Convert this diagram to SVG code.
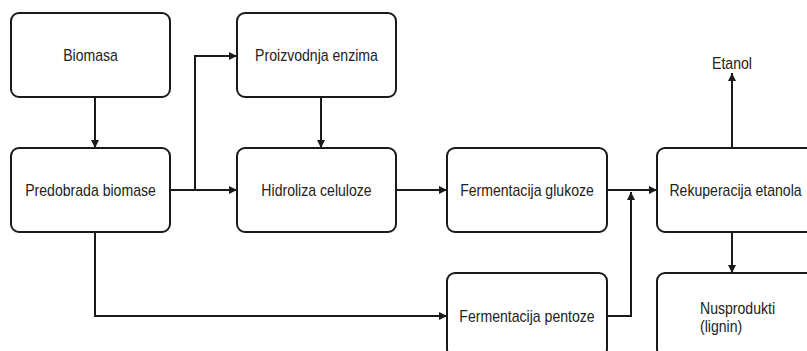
<svg xmlns="http://www.w3.org/2000/svg" width="807" height="351" viewBox="0 0 807 351">
  <style>
    .box { fill: #ffffff; stroke: #1a1a1a; stroke-width: 2; }
    .lbl { font-family: "Liberation Sans Narrow", "Liberation Sans", Arial, sans-serif; font-size: 16px; fill: #222222; }
    .mid { text-anchor: middle; dominant-baseline: central; }
    .edge { fill: none; stroke: #1a1a1a; stroke-width: 2; }
  </style>
  <defs>
    <marker id="arrow" viewBox="0 0 10 10" refX="10" refY="5" markerWidth="10" markerHeight="8" markerUnits="userSpaceOnUse" orient="auto">
      <path d="M0,0 L10,5 L0,10 Z" fill="#1a1a1a"/>
    </marker>
  </defs>
  <rect width="807" height="351" fill="#ffffff"/>

  <g id="connectors">
    <path class="edge" d="M95,97 V148" marker-end="url(#arrow)"/>
    <path class="edge" d="M170,190 H237" marker-end="url(#arrow)"/>
    <path class="edge" d="M195,190 V56 H237" marker-end="url(#arrow)"/>
    <path class="edge" d="M321,97 V148" marker-end="url(#arrow)"/>
    <path class="edge" d="M396,190 H447" marker-end="url(#arrow)"/>
    <path class="edge" d="M607,190 H657" marker-end="url(#arrow)"/>
    <path class="edge" d="M95,232 V316 H447" marker-end="url(#arrow)"/>
    <path class="edge" d="M607,316 H631 V192" marker-end="url(#arrow)"/>
    <path class="edge" d="M732,148 V73" marker-end="url(#arrow)"/>
    <path class="edge" d="M732,232 V273" marker-end="url(#arrow)"/>
  </g>

  <!-- labels use a horizontally condensed sans face -->
  <g id="biomasa">
    <rect class="box" x="11" y="13" width="159" height="84" rx="8"/>
    <text class="lbl mid" transform="translate(90.5,55) scale(0.88,1)">Biomasa</text>
  </g>
  <g id="predobrada">
    <rect class="box" x="11" y="148" width="159" height="84" rx="8"/>
    <text class="lbl mid" transform="translate(90.5,190) scale(0.88,1)">Predobrada biomase</text>
  </g>
  <g id="enzimi">
    <rect class="box" x="237" y="13" width="159" height="84" rx="8"/>
    <text class="lbl mid" transform="translate(316.5,55) scale(0.88,1)">Proizvodnja enzima</text>
  </g>
  <g id="hidroliza">
    <rect class="box" x="237" y="148" width="159" height="84" rx="8"/>
    <text class="lbl mid" transform="translate(316.5,190) scale(0.88,1)">Hidroliza celuloze</text>
  </g>
  <g id="glukoza">
    <rect class="box" x="447" y="148" width="160" height="84" rx="8"/>
    <text class="lbl mid" transform="translate(527,190) scale(0.88,1)">Fermentacija glukoze</text>
  </g>
  <g id="pentoza">
    <rect class="box" x="447" y="273" width="160" height="84" rx="8"/>
    <text class="lbl mid" transform="translate(527,316) scale(0.88,1)">Fermentacija pentoze</text>
  </g>
  <g id="rekuperacija">
    <rect class="box" x="657" y="148" width="160" height="84" rx="8"/>
    <text class="lbl mid" transform="translate(735.5,190) scale(0.88,1)">Rekuperacija etanola</text>
  </g>
  <g id="nusprodukti">
    <rect class="box" x="657" y="273" width="160" height="84" rx="8"/>
    <text class="lbl" transform="translate(700,314) scale(0.88,1)">Nusprodukti</text>
    <text class="lbl" transform="translate(700,332) scale(0.88,1)">(lignin)</text>
  </g>
  <g id="etanol">
    <text class="lbl" text-anchor="middle" transform="translate(732,69) scale(0.88,1)">Etanol</text>
  </g>
</svg>
